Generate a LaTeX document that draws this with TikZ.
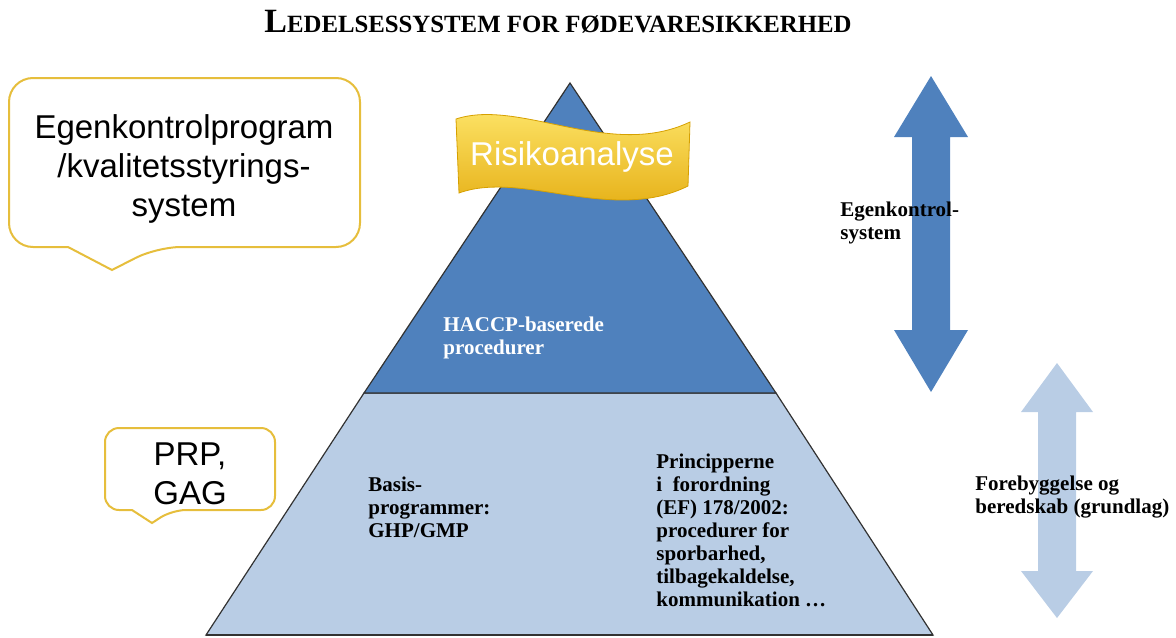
\documentclass[tikz,border=0pt]{standalone}
\usepackage{fontspec}
\setmainfont{Liberation Serif}
\setsansfont{Liberation Sans}
\definecolor{topblue}{RGB}{79,129,189}
\definecolor{baseblue}{RGB}{185,205,229}
\definecolor{bubblegold}{RGB}{230,190,60}
\definecolor{outline}{RGB}{50,50,50}
\definecolor{bannertop}{RGB}{255,232,110}
\definecolor{bannermid}{RGB}{250,202,25}
\definecolor{bannerbot}{RGB}{226,168,10}
\definecolor{banneredge}{RGB}{214,160,0}

\begin{document}
\begin{tikzpicture}[x=0.5pt,y=-0.5pt,
    boxlabel/.style={font=\bfseries\fontsize{10.5}{11.5}\selectfont, align=left, inner sep=0pt, anchor=west},
    bubble/.style={draw=bubblegold, line width=1pt, fill=white},
    bubbletext/.style={font=\sffamily\fontsize{16.5}{19.5}\selectfont, align=center, inner sep=0pt}]
    \useasboundingbox (0,0) rectangle (1176,637);

    % title
    \node (title) at (558,22) {\bfseries\fontsize{17}{17}\selectfont L\fontsize{12.4}{13}\selectfont EDELSESSYSTEM FOR FØDEVARESIKKERHED};

    % double arrows on the right
    \fill [topblue] (931,76) -- (968,137) -- (950,137) -- (950,330) -- (968,330) -- (931,392)
        -- (894,330) -- (912,330) -- (912,137) -- (894,137) -- cycle;
    \fill [baseblue] (1057,363) -- (1093,412) -- (1076,412) -- (1076,571) -- (1093,571) -- (1057,618)
        -- (1021,571) -- (1038,571) -- (1038,412) -- (1021,412) -- cycle;

    % pyramid
    \coordinate (apex) at (570,83);
    \coordinate (midl) at (364,393);
    \coordinate (midr) at (776,393);
    \coordinate (botl) at (206,635);
    \coordinate (botr) at (933,635);
    \filldraw [fill=baseblue, draw=outline, line width=0.6pt] (botl) -- (botr) -- (midr) -- (midl) -- cycle;
    \filldraw [fill=topblue, draw=outline, line width=0.6pt] (apex) -- (midr) -- (midl) -- cycle;
    \draw [outline, line width=1pt] (botl) -- (botr);

    % banner
    \shade [top color=bannertop, middle color=bannermid, bottom color=bannerbot,
        draw=banneredge, line width=0.4pt]
        (456,119) .. controls (520,98) and (610,160) .. (690,122) -- (688,186)
        .. controls (612,224) and (522,170) .. (459,193) -- cycle;
    \node (risk) at (572,157) [font=\sffamily\fontsize{16.5}{16.5}\selectfont, text=white, inner sep=0pt] {Risikoanalyse};

    % callouts
    \draw [bubble] (112,270) -- (68,247) [rounded corners=12pt] -- (9,247) -- (9,78) -- (360,78)
        -- (360,247) -- (157,247) [sharp corners] -- cycle;
    \node (egen) at (184,169) [bubbletext] {Egenkontrolprogram\\/kvalitetsstyrings-\\system};
    \draw [bubble] (152,523) -- (132,510) [rounded corners=7pt] -- (105,510) -- (105,428) -- (275,428)
        -- (275,510) -- (172,510) [sharp corners] -- cycle;
    \node (prp) at (190,474) [bubbletext] {PRP,\\GAG};

    % labels
    \node (haccp) at (443,338) [boxlabel, text=white] {HACCP-baserede\\procedurer};
    \node (basis) at (368,507) [boxlabel] {Basis-\\programmer:\\GHP/GMP};
    \node (princ) at (656,530) [boxlabel] {Principperne\\i\ \ forordning\\(EF) 178/2002:\\procedurer for\\sporbarhed,\\tilbagekaldelse,\\kommunikation \dots};
    \node (selfctl) at (840,223) [boxlabel] {Egenkontrol-\\system};
    \node (prevent) at (975,497) [boxlabel] {Forebyggelse og\\beredskab (grundlag)};
\end{tikzpicture}
\end{document}
